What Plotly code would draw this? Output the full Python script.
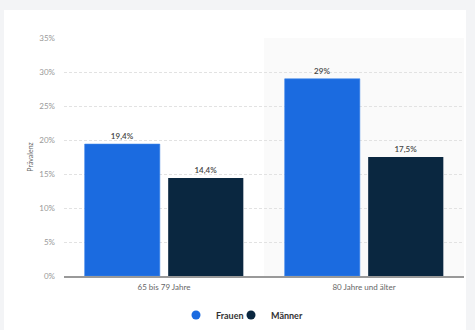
import plotly.graph_objects as go

categories = ["65 bis 79 Jahre", "80 Jahre und älter"]
frauen = [19.4, 29.0]
maenner = [14.4, 17.5]
frauen_labels = ["19,4%", "29%"]
maenner_labels = ["14,4%", "17,5%"]
y_ticks = [0, 5, 10, 15, 20, 25, 30, 35]
y_ticklabels = [f"{v}%" for v in y_ticks]

FONT = "Lato, 'Open Sans', sans-serif"
C_F = "#1b6be0"
C_M = "#0a2740"

fig = go.Figure()
fig.add_trace(go.Bar(
    name="Frauen", x=categories, y=frauen, showlegend=False,
    marker=dict(color=C_F, line=dict(color="#3d84ea", width=0.6)),
    text=frauen_labels, textposition="outside", cliponaxis=False,
    textfont=dict(size=8, color="#444444", family=FONT, weight=600),
))
fig.add_trace(go.Bar(
    name="Männer", x=categories, y=maenner, showlegend=False,
    marker=dict(color=C_M, line=dict(width=0)),
    text=maenner_labels, textposition="outside", cliponaxis=False,
    textfont=dict(size=8, color="#444444", family=FONT, weight=600),
))
for nm, col in [("Frauen", C_F), ("Männer", C_M)]:
    fig.add_trace(go.Scatter(
        name=nm, x=[categories[0]], y=[None], mode="markers",
        marker=dict(symbol="circle", size=9, color=col), showlegend=True,
    ))
# spacer entry so the last legend label is not clipped by the fixed entry width
fig.add_trace(go.Scatter(
    name=" ", x=[categories[0]], y=[None], mode="markers",
    marker=dict(symbol="circle", size=1, color="rgba(0,0,0,0)"), showlegend=True,
    hoverinfo="skip",
))

fig.update_layout(
    width=475, height=330,
    margin=dict(l=64, r=11, t=38, b=54, autoexpand=False),
    paper_bgcolor="#f3f4f6",
    plot_bgcolor="rgba(0,0,0,0)",
    barmode="group", bargap=0.165, bargroupgap=0.1,
    font=dict(family=FONT, size=8, color="#666666"),
    showlegend=True,
    legend=dict(orientation="h", x=(176-64)/400, xanchor="left", y=-0.164, yanchor="middle",
                font=dict(size=9, color="#333333", family=FONT, weight="bold"),
                itemwidth=30, entrywidth=10, tracegroupgap=0, bgcolor="rgba(0,0,0,0)",
                itemclick=False, itemdoubleclick=False),
    shapes=[
        dict(type="rect", xref="paper", yref="paper", x0=-60/400, x1=402/400,
             y0=-60/238, y1=(276-10)/238, fillcolor="white", line=dict(width=0), layer="below"),
        dict(type="rect", xref="x", yref="paper", x0=0.5, x1=1.5, y0=0, y1=1,
             fillcolor="#fafafa", line=dict(width=0), layer="below"),
    ],
)
fig.update_yaxes(
    range=[0, 35], tickvals=y_ticks, ticktext=y_ticklabels,
    showgrid=True, gridcolor="#e2e2e2", griddash="3px,2px", gridwidth=1,
    zeroline=False, showline=False,
    tickfont=dict(size=8, color="#999999"), ticks="", ticklen=0,
    ticklabelstandoff=8,
    title=dict(text="Prävalenz", font=dict(size=7, color="#666666"), standoff=4),
)
fig.update_xaxes(
    showline=True, linecolor="#999999", linewidth=1.5,
    showgrid=False, tickfont=dict(size=8, color="#666666"), ticks="",
    ticklabelstandoff=3,
)

fig.write_html("out.html")
